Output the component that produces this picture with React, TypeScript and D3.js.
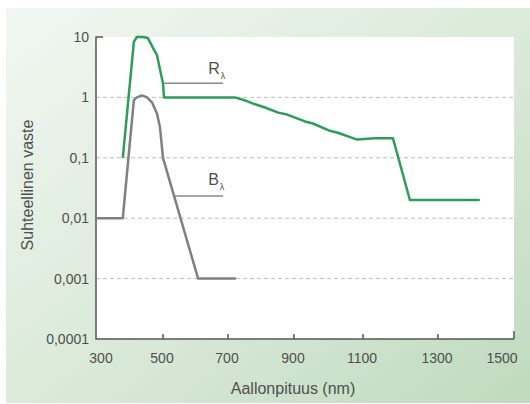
import React, { useEffect, useRef } from 'react'
import * as d3 from 'd3'

const width = 530
const height = 404
const plot = { left: 96, right: 514, top: 37, bottom: 339 }

// x ticks and where the original drew them (the printed axis is not quite even)
const xTicks = [300, 500, 700, 900, 1100, 1300, 1500]
const xTickPx = [96, 163, 228, 294, 363, 438, 514]
const yTicks = [10, 1, 0.1, 0.01, 0.001, 0.0001]
const yTickLabels = ['10', '1', '0,1', '0,01', '0,001', '0,0001']
const gridValues = [1, 0.1, 0.01, 0.001]

// R lambda (green)
const rWave = [380, 413, 422, 440, 455, 470, 482, 500, 503, 721, 752, 776, 812, 852, 879, 932, 955, 1004, 1027, 1083, 1132, 1180, 1225, 1410]
const rValue = [0.1, 8.3, 10, 10, 9.6, 6.6, 5.0, 1.7, 1.0, 1.0, 0.89, 0.79, 0.68, 0.56, 0.52, 0.4, 0.37, 0.28, 0.26, 0.2, 0.21, 0.21, 0.02, 0.02]

// B lambda (gray)
const bWave = [300, 380, 413, 422, 437, 452, 467, 482, 491, 500, 608, 724]
const bValue = [0.01, 0.01, 0.9, 1.0, 1.08, 1.0, 0.83, 0.54, 0.32, 0.1, 0.001, 0.001]

const labels = [
  { name: 'R', sub: 'λ', from: 502, to: 685, value: 1.71, gap: 9 },
  { name: 'B', sub: 'λ', from: 537, to: 685, value: 0.0233, gap: 11 },
]

const font = 'Liberation Sans, Arial, sans-serif'
const textColor = '#4f4f4f'

function App() {
  const svgRef = useRef<SVGSVGElement>(null)

  useEffect(() => {
    const svg = d3.select(svgRef.current)
    svg.selectAll('*').remove()

    const defs = svg.append('defs')
    const grad = defs.append('linearGradient').attr('id', 'bg').attr('x1', 0).attr('y1', 0).attr('x2', 1).attr('y2', 1)
    grad.append('stop').attr('offset', '0%').attr('stop-color', '#f2f7f2')
    grad.append('stop').attr('offset', '55%').attr('stop-color', '#d9e9d7')
    grad.append('stop').attr('offset', '100%').attr('stop-color', '#bfdabf')

    svg.append('rect').attr('x', 6).attr('y', 8).attr('width', width - 6).attr('height', 395).attr('fill', 'url(#bg)')
    svg.append('rect').attr('x', plot.left).attr('y', plot.top)
      .attr('width', plot.right - plot.left).attr('height', plot.bottom - plot.top).attr('fill', '#fff')

    const x = d3.scaleLinear().domain(xTicks).range(xTickPx)
    const y = d3.scaleLog().domain([0.0001, 10]).range([plot.bottom, plot.top])

    // dashed grid
    svg.append('g').selectAll('line').data(gridValues).join('line')
      .attr('x1', plot.left).attr('x2', plot.right)
      .attr('y1', d => y(d)).attr('y2', d => y(d))
      .attr('stroke', '#bdbdbd').attr('stroke-width', 1).attr('stroke-dasharray', '4,3')

    // axes
    const axisColor = '#555'
    svg.append('path')
      .attr('d', `M${plot.left + 7},${y(10)}H${plot.left}V${plot.bottom}H${plot.right}`)
      .attr('fill', 'none').attr('stroke', axisColor).attr('stroke-width', 1.5)

    svg.append('g').selectAll('line').data(xTicks.slice(1)).join('line')
      .attr('x1', d => x(d)).attr('x2', d => x(d))
      .attr('y1', plot.bottom).attr('y2', (d, i) => plot.bottom - (i === xTicks.length - 2 ? 8 : 5))
      .attr('stroke', axisColor).attr('stroke-width', 1.5)

    svg.append('g').selectAll('text').data(xTicks).join('text')
      .attr('x', (d, i) => x(d) + (i === 0 ? 5 : i === xTicks.length - 1 ? -12 : -1))
      .attr('y', plot.bottom + 24)
      .attr('text-anchor', 'middle')
      .attr('font-family', font).attr('font-size', 14).attr('fill', textColor)
      .text(d => String(d))

    svg.append('g').selectAll('text').data(yTicks).join('text')
      .attr('x', plot.left - 7)
      .attr('y', d => y(d))
      .attr('dy', '0.36em')
      .attr('text-anchor', 'end')
      .attr('font-family', font).attr('font-size', 14).attr('fill', textColor)
      .text((d, i) => yTickLabels[i])

    svg.append('text')
      .attr('x', 293).attr('y', 394)
      .attr('text-anchor', 'middle')
      .attr('font-family', font).attr('font-size', 16).attr('fill', textColor)
      .text('Aallonpituus (nm)')

    svg.append('text')
      .attr('transform', 'translate(33,185) rotate(-90)')
      .attr('text-anchor', 'middle')
      .attr('font-family', font).attr('font-size', 16).attr('fill', textColor)
      .text('Suhteellinen vaste')

    // series
    const line = d3.line<[number, number]>().x(d => x(d[0])).y(d => y(d[1]))
    const rData = rWave.map((w, i) => [w, rValue[i]] as [number, number])
    const bData = bWave.map((w, i) => [w, bValue[i]] as [number, number])

    svg.append('path').attr('d', line(bData))
      .attr('fill', 'none').attr('stroke', '#808082').attr('stroke-width', 2.5).attr('stroke-linejoin', 'round')
    svg.append('path').attr('d', line(rData))
      .attr('fill', 'none').attr('stroke', '#2e9d58').attr('stroke-width', 2.5).attr('stroke-linejoin', 'round')

    // labels with leader lines
    labels.forEach(l => {
      const ly = y(l.value)
      svg.append('line')
        .attr('x1', x(l.from)).attr('x2', x(l.to)).attr('y1', ly).attr('y2', ly)
        .attr('stroke', '#8a8a8a').attr('stroke-width', 1.5)
      const t = svg.append('text')
        .attr('x', x(l.to) - 15).attr('y', ly - l.gap)
        .attr('font-family', font).attr('font-size', 16).attr('fill', textColor)
      t.append('tspan').text(l.name)
      t.append('tspan').attr('font-size', 9).attr('dy', 5).attr('dx', 1).text(l.sub)
    })
  }, [])

  return (
    <svg
      ref={svgRef}
      width={width}
      height={height}
      style={{ position: 'absolute', left: 0, top: 0, display: 'block' }}
    />
  )
}

export default App
